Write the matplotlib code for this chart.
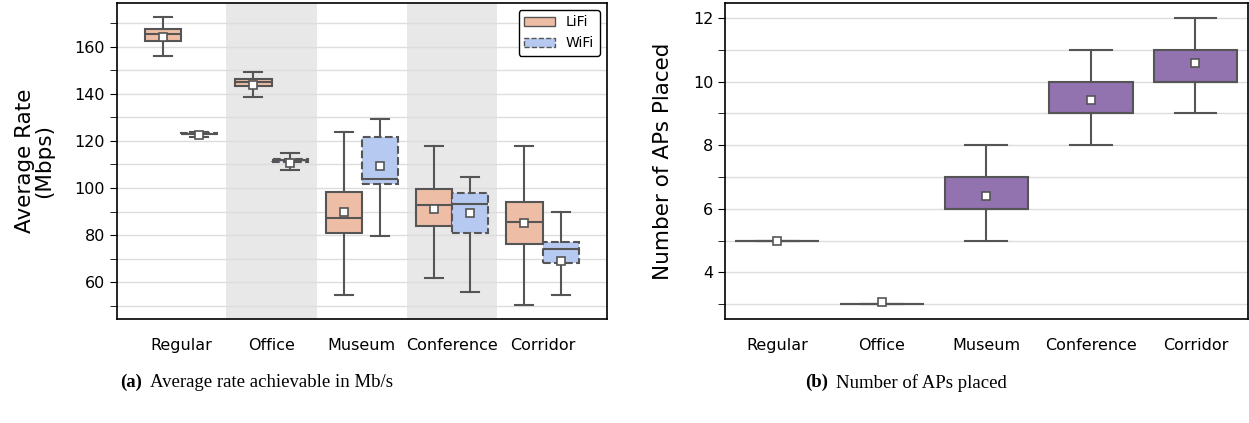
import matplotlib
matplotlib.use('Agg')
import matplotlib.pyplot as plt
from matplotlib.patches import Patch
from matplotlib.ticker import MultipleLocator

scenarios = ['Regular', 'Office', 'Museum', 'Conference', 'Corridor']

# average rate (Mbps): whisker low, q1, median, q3, whisker high, mean
lifi_whislo = [155.9, 138.6, 54.4, 61.9, 50.3]
lifi_q1 = [162.6, 143.3, 80.9, 84.0, 76.2]
lifi_med = [165.5, 145.1, 87.4, 93.0, 85.6]
lifi_q3 = [167.4, 146.5, 98.3, 99.6, 94.2]
lifi_whishi = [172.7, 149.3, 123.9, 117.9, 117.8]
lifi_mean = [164.1, 143.7, 89.7, 91.1, 85.1]

wifi_whislo = [121.6, 107.7, 79.8, 56.0, 54.7]
wifi_q1 = [122.8, 110.9, 101.5, 80.9, 68.1]
wifi_med = [123.1, 111.7, 103.7, 93.4, 74.3]
wifi_q3 = [123.4, 112.4, 121.8, 97.9, 76.9]
wifi_whishi = [123.6, 114.8, 129.2, 104.7, 89.7]
wifi_mean = [122.6, 110.7, 109.4, 89.6, 69.1]

# number of APs placed
ap_whislo = [5, 3, 5, 8, 9]
ap_q1 = [5, 3, 6, 9, 10]
ap_med = [5, 3, 6, 9, 10]
ap_q3 = [5, 3, 7, 10, 11]
ap_whishi = [5, 3, 8, 11, 12]
ap_mean = [5.0, 3.07, 6.39, 9.43, 10.57]

lifi_color = '#EEBDA6'
wifi_color = '#B6C9F0'
ap_color = '#9372B0'
edge = '#555555'


def stats(lo, q1, med, q3, hi, mean):
    return [dict(whislo=a, q1=b, med=c, q3=d, whishi=e, mean=f, fliers=[])
            for a, b, c, d, e, f in zip(lo, q1, med, q3, hi, mean)]


def draw(ax, st, pos, width, color, ls='-'):
    ax.bxp(st, positions=pos, widths=width, showmeans=True, patch_artist=True,
           showfliers=False, manage_ticks=False,
           boxprops=dict(facecolor=color, edgecolor=edge, linewidth=1.5, linestyle=ls),
           medianprops=dict(color=edge, linewidth=1.5),
           whiskerprops=dict(color=edge, linewidth=1.5),
           capprops=dict(color=edge, linewidth=1.5),
           meanprops=dict(marker='s', markerfacecolor='white', markeredgecolor=edge,
                          markersize=5.5, markeredgewidth=1.2),
           zorder=3)


fig = plt.figure(figsize=(12.49, 4.23), dpi=100)
ax1 = fig.add_axes([0.0937, 0.246, 0.392, 0.747])
ax2 = fig.add_axes([0.5805, 0.246, 0.4185, 0.747])

x = list(range(len(scenarios)))

# left: average rate
for i in (1, 3):
    ax1.axvspan(i - 0.5, i + 0.5, color='#E8E8E8', zorder=0, lw=0)
draw(ax1, stats(lifi_whislo, lifi_q1, lifi_med, lifi_q3, lifi_whishi, lifi_mean),
     [i - 0.2 for i in x], 0.4, lifi_color)
draw(ax1, stats(wifi_whislo, wifi_q1, wifi_med, wifi_q3, wifi_whishi, wifi_mean),
     [i + 0.2 for i in x], 0.4, wifi_color, '--')
ax1.set_xlim(-0.71, 4.71)
ax1.set_ylim(44.4, 178.6)
ax1.yaxis.set_major_locator(MultipleLocator(20))
ax1.yaxis.set_minor_locator(MultipleLocator(10))
ax1.set_ylabel('Average Rate\n(Mbps)', fontsize=15.5, linespacing=0.95, labelpad=15)
ax1.legend(handles=[Patch(facecolor=lifi_color, edgecolor=edge, label='LiFi'),
                    Patch(facecolor=wifi_color, edgecolor=edge, linestyle='--', label='WiFi')],
           loc='upper right', fontsize=10, framealpha=1, edgecolor='black',
           handlelength=2.2)

# right: number of APs
draw(ax2, stats(ap_whislo, ap_q1, ap_med, ap_q3, ap_whishi, ap_mean),
     x, 0.8, ap_color)
ax2.set_xlim(-0.5, 4.5)
ax2.set_ylim(2.54, 12.47)
ax2.yaxis.set_major_locator(MultipleLocator(2))
ax2.yaxis.set_minor_locator(MultipleLocator(1))
ax2.set_ylabel('Number of APs Placed', fontsize=15.5, labelpad=14)

for ax in (ax1, ax2):
    ax.set_xticks(x)
    ax.set_xticklabels(scenarios)
    ax.tick_params(axis='x', length=0, pad=14, labelsize=11.5)
    ax.tick_params(axis='y', which='major', labelsize=11.5, length=5)
    ax.tick_params(axis='y', which='minor', length=5)
    ax.grid(axis='y', which='both', color='#DDDDDD', linewidth=1, zorder=1)
    ax.set_axisbelow(True)
    for s in ax.spines.values():
        s.set_linewidth(1.2)

cap = dict(fontsize=13.5, family='Liberation Serif', va='center')
fig.text(0.096, 0.095, '(a)', fontweight='bold', ha='left', **cap)
fig.text(0.120, 0.095, 'Average rate achievable in Mb/s', ha='left', **cap)
fig.text(0.645, 0.095, '(b)', fontweight='bold', ha='left', **cap)
fig.text(0.669, 0.095, 'Number of APs placed', ha='left', **cap)

fig.savefig('out.png', dpi=100)
